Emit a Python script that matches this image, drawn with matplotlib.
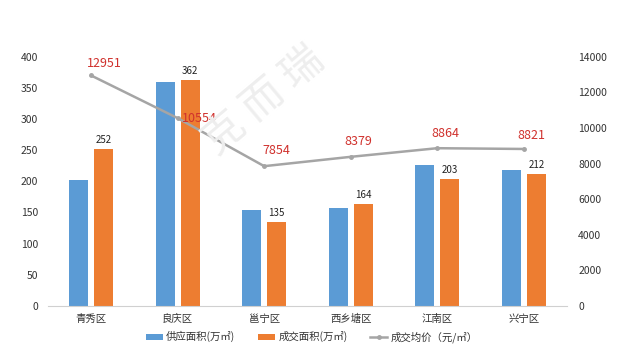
import numpy as np
import matplotlib
matplotlib.use("Agg")
import matplotlib.pyplot as plt

plt.rcParams['font.family'] = ['Noto Sans CJK SC', 'DejaVu Sans']

districts = ["青秀区", "良庆区", "邕宁区", "西乡塘区", "江南区", "兴宁区"]
supply = [202, 359, 154, 158, 226, 218]
deal = [252, 362, 135, 164, 203, 212]
price = [12951, 10554, 7854, 8379, 8864, 8821]

BLUE, ORANGE, GREY, RED = "#5b9bd5", "#ed7d31", "#a5a5a5", "#d0312d"

fig = plt.figure(figsize=(6.3, 3.62), dpi=100)
ax = fig.add_axes([0.076, 0.155, 0.824, 0.688])
x = np.arange(len(districts))
w = 0.22
b1 = ax.bar(x - 0.145, supply, w, color=BLUE, label="供应面积(万㎡)")
b2 = ax.bar(x + 0.145, deal, w, color=ORANGE, label="成交面积(万㎡)")
for xi, v in zip(x, deal):
    ax.annotate(str(v), (xi + 0.145, v), xytext=(0, 4), textcoords="offset pixels",
                ha="center", va="bottom", fontsize=7, color="#222222")

ax.set_ylim(0, 400)
ax.set_yticks(range(0, 401, 50))
ax.set_xlim(-0.5, len(districts) - 0.5)
ax.set_xticks(x)
ax.set_xticklabels(districts, fontsize=7.5, color="#333333")
ax.tick_params(axis="y", labelsize=7.5, colors="#333333", length=0, pad=7)
ax.tick_params(axis="x", length=0, pad=6)
for s in ["top", "left", "right"]:
    ax.spines[s].set_visible(False)
ax.spines["bottom"].set_color("#d0d0d0")

ax2 = ax.twinx()
ln, = ax2.plot(x, price, color=GREY, lw=1.8, marker="o", markersize=2.5, label="成交均价（元/㎡）")
ax2.set_ylim(0, 14000)
ax2.set_yticks(range(0, 14001, 2000))
ax2.tick_params(axis="y", labelsize=7.5, colors="#333333", length=0, pad=8)
for s in ax2.spines.values():
    s.set_visible(False)
offsets = [(13, 12), (22, 0), (12, 16), (8, 15), (8, 15), (8, 13)]
for xi, v, (dx, dy) in zip(x, price, offsets):
    ax2.annotate(str(v), (xi, v), xytext=(dx, dy), textcoords="offset pixels",
                 ha="center", va="center", fontsize=9, color=RED)

# faint watermark
fig.text(0.42, 0.72, "克 而 瑞", fontsize=30, color="#eeeeee", rotation=40,
         ha="center", va="center", zorder=0)

fig.legend(handles=[b1, b2, ln], loc="center", bbox_to_anchor=(0.495, 0.069), ncol=3,
           frameon=False, fontsize=7.5, handlelength=1.6, handleheight=0.5,
           handletextpad=0.3, columnspacing=2.2, labelcolor="#333333")

fig.savefig("out.png", dpi=100)
